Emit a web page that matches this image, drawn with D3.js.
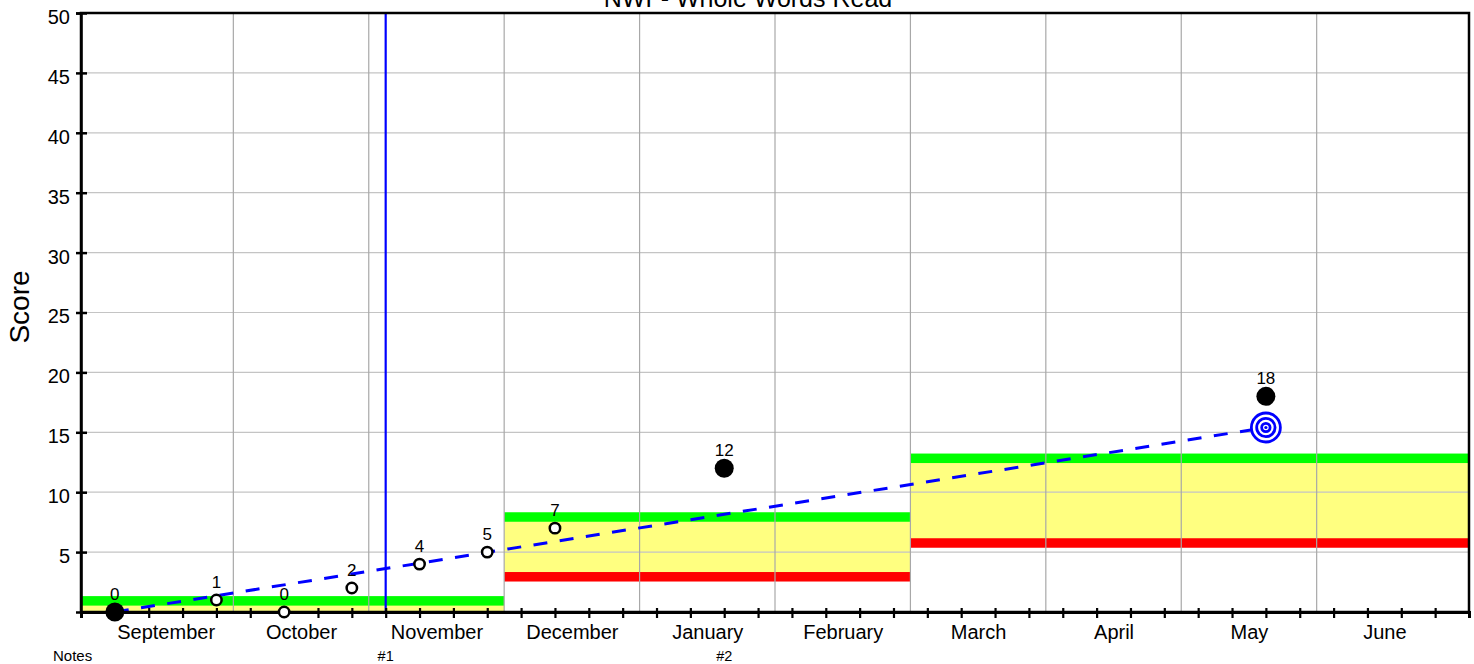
<!DOCTYPE html>
<html>
<head>
<meta charset="utf-8">
<script src="https://cdn.jsdelivr.net/npm/d3@7"></script>
<style>
  body { margin: 0; background: #fff; }
  svg { display: block; font-family: "Liberation Sans", Arial, Helvetica, sans-serif; }
</style>
</head>
<body>
<div id="chart"></div>
<script>
// Months shown along the bottom (4 weeks each, week 0 = first week of September)
const months = ["September", "October", "November", "December", "January",
                "February", "March", "April", "May", "June"];

// Scores: week index and score
const scoreWeeks = [0, 3, 5, 7, 9, 11, 13, 18, 34];
const scores     = [0, 1, 0, 2, 4, 5, 7, 12, 18];
// Benchmark assessments are the big filled dots, the rest are progress checks
const isBenchmark = [true, false, false, false, false, false, false, true, true];

// Benchmark bands (yellow zone between red and green line)
const bandStart = [-1, 11.5, 23.5];
const bandEnd   = [11.5, 23.5, 40];
const bandHigh  = [0.93, 7.93, 12.83];
const bandLow   = [-0.6, 2.94, 5.76];

// Aim line from first score to goal
const aimStart = { week: 0, value: 0 };
const goal = { week: 34, value: 15.4 };

// Notes along the bottom, the first one is a phase change line
const noteWeeks  = [8, 18];
const noteLabels = ["#1", "#2"];
const phaseLineWeeks = [8];

const yTicks = [5, 10, 15, 20, 25, 30, 35, 40, 45, 50];

const width = 1474;
const height = 664;
const margin = { top: 13, right: 5, bottom: 52, left: 81 };

const svg = d3.select("#chart")
    .append("svg")
    .attr("width", width)
    .attr("height", height);

const x = d3.scaleLinear().domain([-1, 40]).range([margin.left, width - margin.right]);
const y = d3.scaleLinear().domain([0, 50]).range([height - margin.bottom, margin.top]);

const plotW = x(40) - x(-1);
const plotH = y(0) - y(50);

svg.append("clipPath")
    .attr("id", "plotClip")
    .append("rect")
    .attr("x", x(-1))
    .attr("y", y(50))
    .attr("width", plotW)
    .attr("height", plotH);

// Bands
const bands = bandStart.map((s, i) => ({ start: s, end: bandEnd[i], low: bandLow[i], high: bandHigh[i] }));
const bandG = svg.append("g").attr("clip-path", "url(#plotClip)");
const lineH = 9.5;

bandG.selectAll(".yellow")
    .data(bands)
    .enter().append("rect")
    .attr("x", d => x(d.start))
    .attr("width", d => x(d.end) - x(d.start))
    .attr("y", d => y(d.high))
    .attr("height", d => y(d.low) - y(d.high))
    .attr("fill", "#ffff80");

bandG.selectAll(".green")
    .data(bands)
    .enter().append("rect")
    .attr("x", d => x(d.start))
    .attr("width", d => x(d.end) - x(d.start))
    .attr("y", d => y(d.high) - lineH / 2)
    .attr("height", lineH)
    .attr("fill", "#00ff00");

bandG.selectAll(".red")
    .data(bands)
    .enter().append("rect")
    .attr("x", d => x(d.start))
    .attr("width", d => x(d.end) - x(d.start))
    .attr("y", d => y(d.low) - lineH / 2)
    .attr("height", lineH)
    .attr("fill", "#ff0000");

// Grid lines
svg.append("g")
    .selectAll("line")
    .data(yTicks.filter(v => v < 50))
    .enter().append("line")
    .attr("x1", x(-1))
    .attr("x2", x(40))
    .attr("y1", d => y(d))
    .attr("y2", d => y(d))
    .attr("stroke", "#c4c4c4")
    .attr("stroke-width", 1.2);

svg.append("g")
    .selectAll("line")
    .data(months.slice(1).map((m, i) => 4 * (i + 1) - 0.5))
    .enter().append("line")
    .attr("x1", d => x(d))
    .attr("x2", d => x(d))
    .attr("y1", y(50))
    .attr("y2", y(0))
    .attr("stroke", "#a8a8a8")
    .attr("stroke-width", 1.2);

// Phase change line
svg.selectAll(".phase")
    .data(phaseLineWeeks)
    .enter().append("line")
    .attr("x1", d => x(d))
    .attr("x2", d => x(d))
    .attr("y1", y(50))
    .attr("y2", y(0))
    .attr("stroke", "#0000ff")
    .attr("stroke-width", 2.2);

// Aim line
svg.append("line")
    .attr("x1", x(aimStart.week))
    .attr("y1", y(aimStart.value))
    .attr("x2", x(goal.week))
    .attr("y2", y(goal.value))
    .attr("stroke", "#0000ff")
    .attr("stroke-width", 3)
    .attr("stroke-dasharray", "14,12.5");

// Frame
svg.append("rect")
    .attr("x", x(-1))
    .attr("y", y(50))
    .attr("width", plotW)
    .attr("height", plotH)
    .attr("fill", "none")
    .attr("stroke", "#000")
    .attr("stroke-width", 2.5);

// Y axis
const yAxis = svg.append("g")
    .attr("transform", `translate(${x(-1)},0)`)
    .call(d3.axisLeft(y).tickValues(yTicks).tickSize(5).tickPadding(6));
yAxis.select(".domain").attr("stroke-width", 2.5);
yAxis.selectAll(".tick line").attr("x1", 6).attr("x2", -5).attr("stroke-width", 2.5);
yAxis.selectAll(".tick text")
    .attr("font-size", 20)
    .attr("font-family", "Liberation Sans, Arial, sans-serif")
    .attr("dy", "0.52em")
    .attr("fill", "#000");

// X axis (weeks)
const weeks = d3.range(0, 40);
const xAxis = svg.append("g")
    .attr("transform", `translate(0,${y(0)})`)
    .call(d3.axisBottom(x).tickValues(weeks).tickFormat("").tickSize(6));
xAxis.select(".domain").attr("stroke-width", 3);
xAxis.selectAll(".tick line").attr("y1", -4).attr("y2", 6).attr("stroke-width", 2.2);

// Month labels
const monthAxis = svg.append("g")
    .attr("transform", `translate(0,${y(0)})`)
    .call(d3.axisBottom(x)
        .tickValues(months.map((m, i) => 4 * i + 1.5))
        .tickFormat((d, i) => months[i])
        .tickSize(0)
        .tickPadding(13));
monthAxis.select(".domain").remove();
monthAxis.selectAll(".tick text")
    .attr("font-size", 20)
    .attr("font-family", "Liberation Sans, Arial, sans-serif")
    .attr("fill", "#000");

// Score points
const points = scoreWeeks.map((w, i) => ({ week: w, score: scores[i], big: isBenchmark[i] }));

svg.append("g")
    .selectAll("circle")
    .data(points)
    .enter().append("circle")
    .attr("cx", d => x(d.week))
    .attr("cy", d => y(d.score))
    .attr("r", d => d.big ? 9.5 : 5.2)
    .attr("fill", d => d.big ? "#000" : "#fff")
    .attr("stroke", "#000")
    .attr("stroke-width", d => d.big ? 0 : 2.5);

svg.append("g")
    .selectAll("text")
    .data(points)
    .enter().append("text")
    .attr("x", d => x(d.week))
    .attr("y", d => y(d.score) - 12)
    .attr("text-anchor", "middle")
    .attr("font-size", 17)
    .text(d => d.score);

// Goal target
const target = svg.append("g")
    .attr("transform", `translate(${x(goal.week)},${y(goal.value)})`);
[14.5, 9.2, 4.2].forEach(r => {
    target.append("circle")
        .attr("r", r)
        .attr("fill", "#fff")
        .attr("stroke", "#0000ff")
        .attr("stroke-width", 2.8);
});
target.append("circle").attr("r", 1.6).attr("fill", "#0000ff");

// Notes row
svg.append("text")
    .attr("x", 53)
    .attr("y", 661)
    .attr("font-size", 15)
    .text("Notes");

svg.append("g")
    .selectAll("text")
    .data(noteWeeks)
    .enter().append("text")
    .attr("x", d => x(d))
    .attr("y", 661)
    .attr("text-anchor", "middle")
    .attr("font-size", 14.5)
    .text((d, i) => noteLabels[i]);

// Title (sits mostly above the top edge)
svg.append("text")
    .attr("x", 748)
    .attr("y", 7)
    .attr("text-anchor", "middle")
    .attr("font-size", 25)
    .text("NWF- Whole Words Read");

// Y axis title
svg.append("text")
    .attr("transform", "translate(29,307) rotate(-90)")
    .attr("text-anchor", "middle")
    .attr("font-size", 28)
    .text("Score");
</script>
</body>
</html>
